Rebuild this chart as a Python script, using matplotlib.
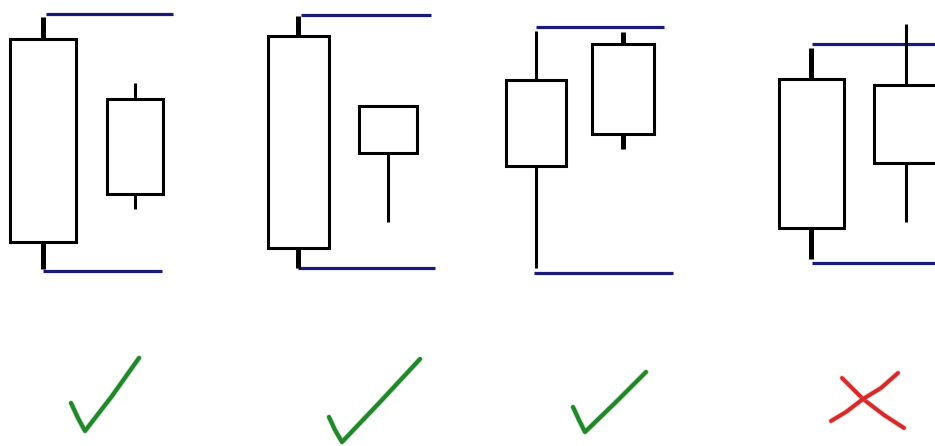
import matplotlib
matplotlib.use("Agg")
import matplotlib.pyplot as plt
from matplotlib.patches import Rectangle

# candle values (price scale, higher = up)
opens = [407, 347, 410, 340, 366, 402, 367, 361]
closes = [204, 252, 198, 293, 280, 312, 218, 283]
highs = [429, 363, 430, 340, 415, 414, 398, 422]
lows = [177, 237, 178, 224, 178, 297, 187, 224]

# where each candle sits and how wide it is
centers = [43, 135, 298, 388, 536, 623, 811, 906]
widths = [66, 56, 61, 58, 60, 62, 65, 64]
wick_lw = [3.6, 2.2, 3.6, 2.2, 2.2, 3.6, 3.6, 2.2]

# blue support / resistance levels per pattern: (level, x start, x end)
top_levels = [(432, 46, 173), (431, 301, 431), (419, 536, 664), (402, 812, 940)]
bottom_levels = [(175, 43, 162), (178, 298, 435), (173, 534, 673), (183, 812, 940)]

# hand drawn marks under each pattern
ticks = [
    [(71, 43), (78, 28), (85, 15), (112, 50), (139, 88)],
    [(329, 29), (335, 16), (342, 4), (381, 45), (420, 87)],
    [(573, 39), (579, 26), (585, 14), (616, 44), (646, 74)],
]
cross_a = [(842, 68), (863, 47), (884, 31), (904, 18)]
cross_b = [(898, 73), (881, 58), (863, 47), (846, 34), (831, 25)]

fig = plt.figure(figsize=(9.35, 4.46), dpi=100)
ax = fig.add_axes([0, 0, 1, 1])
ax.set_xlim(0, 935)
ax.set_ylim(0, 446)
ax.axis("off")

navy = "#1a1a78"
for lvl, x0, x1 in top_levels + bottom_levels:
    ax.plot([x0, x1], [lvl, lvl], color=navy, lw=2.3, solid_capstyle="butt")

for o, c, h, l, xc, w, lw in zip(opens, closes, highs, lows, centers, widths, wick_lw):
    top = max(o, c)
    bot = min(o, c)
    if h > top:
        ax.plot([xc, xc], [top, h], color="black", lw=lw, solid_capstyle="butt")
    if l < bot:
        ax.plot([xc, xc], [l, bot], color="black", lw=lw, solid_capstyle="butt")
    ax.add_patch(Rectangle((xc - w / 2, bot), w, top - bot, facecolor="white",
                           edgecolor="black", lw=2.2, zorder=3))

green = "#22862a"
for t in ticks:
    xs = [p[0] for p in t]
    ys = [p[1] for p in t]
    ax.plot(xs, ys, color="#7cc47c", lw=4.2, solid_capstyle="round", solid_joinstyle="round", alpha=0.4)
    ax.plot(xs, ys, color=green, lw=3.0, solid_capstyle="round", solid_joinstyle="round")

red = "#d42a2a"
for s in (cross_a, cross_b):
    xs = [p[0] for p in s]
    ys = [p[1] for p in s]
    ax.plot(xs, ys, color="#f08080", lw=4.0, solid_capstyle="round", alpha=0.4)
    ax.plot(xs, ys, color=red, lw=2.8, solid_capstyle="round", solid_joinstyle="round")

fig.savefig("out.png", dpi=100, facecolor="white")
